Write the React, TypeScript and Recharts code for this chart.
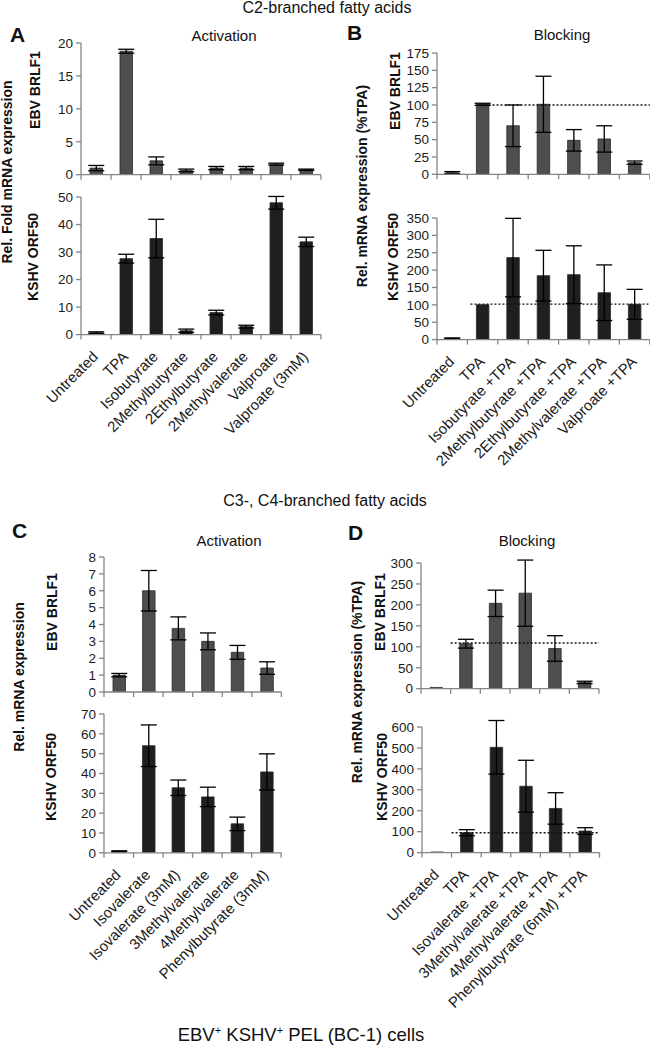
import React from 'react';
import { BarChart, Bar, XAxis, YAxis, ErrorBar, ReferenceLine } from 'recharts';

const FONT = '"Liberation Sans", Arial, sans-serif';
const AXIS_GREY = '#858585';
const TOP_FILL = '#4e4e4e';
const BOTTOM_FILL = '#1f1f1f';

// C2-branched (A / B)
const c2Activation = ['Untreated', 'TPA', 'Isobutyrate', '2Methylbutyrate', '2Ethylbutyrate', '2Methylvalerate', 'Valproate', 'Valproate (3mM)'];
const aEbv = [1.0, 18.75, 2.1, 0.65, 1.0, 1.0, 1.6, 0.75];
const aEbvErr = [0.4, 0.3, 0.6, 0.2, 0.25, 0.25, 0.15, 0.1];
const aKshv = [0.7, 27.6, 34.9, 1.4, 8.0, 2.9, 47.9, 33.7];
const aKshvErr = [0.3, 1.6, 7.0, 0.6, 0.85, 0.5, 2.3, 1.7];

const c2Blocking = ['Untreated', 'TPA', 'Isobutyrate +TPA', '2Methylbutyrate +TPA', '2Ethylbutyrate +TPA', '2Methylvalerate +TPA', 'Valproate +TPA'];
const bEbv = [2.4, 101, 70, 101, 49, 51, 16.8];
const bEbvErr = [1.5, 1.5, 30, 40.5, 15.5, 19, 2.4];
const bKshv = [3.8, 100.6, 236, 184, 187, 135, 101.6];
const bKshvErr = [1, 0, 113, 73, 83, 80, 43];

// C3-, C4-branched (C / D)
const c3Activation = ['Untreated', 'Isovalerate', 'Isovalerate (3mM)', '3Methylvalerate', '4Methylvalerate', 'Phenylbutyrate (3mM)'];
const cEbv = [1.0, 6.0, 3.77, 3.0, 2.35, 1.42];
const cEbvErr = [0.1, 1.2, 0.68, 0.5, 0.41, 0.37];
const cKshv = [0.8, 54, 32.8, 28.2, 14.6, 40.8];
const cKshvErr = [0.2, 10.5, 3.9, 4.9, 3.4, 9.1];

const c3Blocking = ['Untreated', 'TPA', 'Isovalerate +TPA', '3Methylvalerate +TPA', '4Methylvalerate +TPA', 'Phenylbutyrate (6mM) +TPA'];
const dEbv = [3, 107.4, 203.7, 228, 96, 15];
const dEbvErr = [0, 10.5, 31.5, 79, 30.5, 2.8];
const dKshv = [3, 95, 503, 317, 211, 103];
const dKshvErr = [0, 14.5, 128, 124, 75, 16];

const toRows = (names: string[], vals: number[], errs: number[]) =>
  names.map((name, i) => ({ name, v: vals[i], e: errs[i] }));

const YW = 45;
const MT = 10;

type PanelProps = {
  names: string[];
  vals: number[];
  errs: number[];
  x0: number;
  x1: number;
  yTop: number;
  yZero: number;
  max: number;
  step: number;
  fill: string;
  labels?: boolean;
  refY?: number;
  refStart?: number; // offset into the TPA band, as fraction
};

const Panel = ({ names, vals, errs, x0, x1, yTop, yZero, max, step, fill, labels, refY, refStart = 0 }: PanelProps) => {
  const plotW = x1 - x0;
  const plotH = yZero - yTop;
  const xh = labels ? 230 : 12;
  const n = names.length;
  const bw = plotW / n;
  const ticks: number[] = [];
  for (let t = 0; t <= max; t += step) ticks.push(t);

  const XTick = (p: any) => {
    const { x, y, index, payload } = p;
    return (
      <g>
        <line x1={x - bw / 2} y1={y} x2={x - bw / 2} y2={y + 5} stroke={AXIS_GREY} strokeWidth={1.3} />
        {index === n - 1 && <line x1={x + bw / 2} y1={y} x2={x + bw / 2} y2={y + 5} stroke={AXIS_GREY} strokeWidth={1.3} />}
        {labels && (
          <text
            x={x + 3}
            y={y + 23}
            transform={`rotate(-45, ${x + 3}, ${y + 23})`}
            textAnchor="end"
            fontSize={15}
            fill="#1a1a1a"
            fontFamily={FONT}
          >
            {payload.value}
          </text>
        )}
      </g>
    );
  };

  const RefShape = (p: any) => {
    const sx = p.x1 + bw * (1 + refStart);
    return <line x1={sx} y1={p.y1} x2={p.x2} y2={p.y2} stroke="#111" strokeWidth={1.4} strokeDasharray="2 2" />;
  };

  return (
    <div style={{ position: 'absolute', left: x0 - YW, top: yTop - MT }}>
      <BarChart
        width={YW + plotW + 4}
        height={MT + plotH + xh}
        data={toRows(names, vals, errs)}
        margin={{ top: MT, right: 4, left: 0, bottom: 0 }}
        barCategoryGap={0}
        style={{ overflow: 'visible' }}
      >
        <XAxis
          dataKey="name"
          interval={0}
          height={xh}
          tickSize={0}
          tickMargin={0}
          tickLine={false}
          axisLine={{ stroke: AXIS_GREY, strokeWidth: 1.3 }}
          tick={XTick}
        />
        <YAxis
          width={YW}
          domain={[0, max]}
          ticks={ticks}
          interval={0}
          allowDataOverflow
          tickSize={5}
          tickMargin={3}
          axisLine={{ stroke: AXIS_GREY, strokeWidth: 1.3 }}
          tickLine={{ stroke: AXIS_GREY, strokeWidth: 1.3 }}
          tick={{ fontSize: 13.5, fill: '#1a1a1a', fontFamily: FONT }}
        />
        <Bar dataKey="v" fill={fill} stroke="#2a2a2a" strokeWidth={0.8} barSize={12.5} isAnimationActive={false}>
          <ErrorBar dataKey="e" width={8} stroke="#000" strokeWidth={1.3} direction="y" />
        </Bar>
        {refY !== undefined && <ReferenceLine y={refY} shape={RefShape} />}
      </BarChart>
    </div>
  );
};

const VText = ({ x, y, children, bold = true, size = 14 }: any) => (
  <text
    x={x}
    y={y}
    transform={`rotate(-90, ${x}, ${y})`}
    textAnchor="middle"
    dominantBaseline="central"
    fontSize={size}
    fontWeight={bold ? 'bold' : 'normal'}
    fontFamily={FONT}
    fill="#111"
  >
    {children}
  </text>
);

const Txt = ({ x, y, children, size = 15, bold = false, anchor = 'middle' }: any) => (
  <text x={x} y={y} textAnchor={anchor} fontSize={size} fontWeight={bold ? 'bold' : 'normal'} fontFamily={FONT} fill="#111">
    {children}
  </text>
);

export default function App() {
  return (
    <div style={{ position: 'absolute', left: 0, top: 0, width: 650, height: 1048, background: '#fff', overflow: 'hidden' }}>
      <svg width={650} height={1048} style={{ position: 'absolute', left: 0, top: 0 }}>
        <Txt x={327} y={13} size={16}>C2-branched fatty acids</Txt>
        <Txt x={10} y={42} size={21} bold anchor="start">A</Txt>
        <Txt x={224} y={41}>Activation</Txt>
        <Txt x={347} y={40} size={21} bold anchor="start">B</Txt>
        <Txt x={562} y={40}>Blocking</Txt>
        <VText x={7} y={172}>Rel. Fold mRNA expression</VText>
        <VText x={35} y={90}>EBV BRLF1</VText>
        <VText x={33} y={257}>KSHV ORF50</VText>
        <VText x={362} y={186}>Rel. mRNA expression (%TPA)</VText>
        <VText x={395} y={91}>EBV BRLF1</VText>
        <VText x={393} y={257}>KSHV ORF50</VText>

        <Txt x={325} y={506} size={16}>C3-, C4-branched fatty acids</Txt>
        <Txt x={12} y={538} size={21} bold anchor="start">C</Txt>
        <Txt x={229} y={546}>Activation</Txt>
        <Txt x={348} y={540} size={21} bold anchor="start">D</Txt>
        <Txt x={527} y={546}>Blocking</Txt>
        <VText x={19} y={677}>Rel. mRNA expression</VText>
        <VText x={52} y={612}>EBV BRLF1</VText>
        <VText x={51} y={777}>KSHV ORF50</VText>
        <VText x={357} y={682}>Rel. mRNA expression (%TPA)</VText>
        <VText x={380} y={612}>EBV BRLF1</VText>
        <VText x={382} y={777}>KSHV ORF50</VText>

        <text x={301} y={1041} textAnchor="middle" fontSize={18.5} fontFamily={FONT} fill="#111">
          EBV<tspan fontSize={11} dy={-7}>+</tspan>
          <tspan dy={7}> KSHV</tspan>
          <tspan fontSize={11} dy={-7}>+</tspan>
          <tspan dy={7}> PEL (BC-1) cells</tspan>
        </text>
      </svg>

      <Panel names={c2Activation} vals={aEbv} errs={aEbvErr} x0={81} x1={321} yTop={43.3} yZero={175} max={20} step={5} fill={TOP_FILL} />
      <Panel names={c2Activation} vals={aKshv} errs={aKshvErr} x0={81} x1={321} yTop={196.7} yZero={334.3} max={50} step={10} fill={BOTTOM_FILL} labels />
      <Panel names={c2Blocking} vals={bEbv} errs={bEbvErr} x0={436.7} x1={649.5} yTop={52.7} yZero={174} max={175} step={25} fill={TOP_FILL} refY={100} refStart={0.3} />
      <Panel names={c2Blocking} vals={bKshv} errs={bKshvErr} x0={436.7} x1={649.5} yTop={217.7} yZero={339.3} max={350} step={50} fill={BOTTOM_FILL} labels refY={102} refStart={0.1} />
      <Panel names={c3Activation} vals={cEbv} errs={cEbvErr} x0={104.3} x1={281.7} yTop={556.7} yZero={691.7} max={8} step={1} fill={TOP_FILL} />
      <Panel names={c3Activation} vals={cKshv} errs={cKshvErr} x0={104.3} x1={281.5} yTop={713.9} yZero={852.7} max={70} step={10} fill={BOTTOM_FILL} labels />
      <Panel names={c3Blocking} vals={dEbv} errs={dEbvErr} x0={420.5} x1={598.5} yTop={563.3} yZero={689} max={300} step={50} fill={TOP_FILL} refY={109} />
      <Panel names={c3Blocking} vals={dKshv} errs={dKshvErr} x0={421.5} x1={599} yTop={726.7} yZero={852.3} max={600} step={100} fill={BOTTOM_FILL} labels refY={95} />
    </div>
  );
}
